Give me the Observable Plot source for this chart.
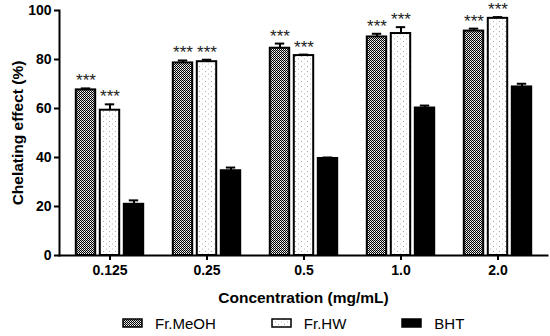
<!DOCTYPE html>
<html>
<head>
<meta charset="utf-8">
<script src="https://cdn.jsdelivr.net/npm/d3@7"></script>
<script src="https://cdn.jsdelivr.net/npm/@observablehq/plot@0.6"></script>
<style>
  body { margin: 0; background: #fff; font-family: "Liberation Sans", Arial, sans-serif; }
  #chart svg { display: block; }
  .legend { display: flex; align-items: center; height: 26px; padding-left: 122px; font-size: 15px; color: #000; }
  .legend .item { display: flex; align-items: center; margin-right: 55px; }
  .legend svg { margin-right: 12px; display: block; }
</style>
</head>
<body>
<svg width="0" height="0" style="position:absolute">
  <defs>
    <pattern id="checker" width="2" height="2" patternUnits="userSpaceOnUse">
      <rect width="2" height="2" fill="#fff"/>
      <rect x="0" y="0" width="1" height="1" fill="#000"/>
      <rect x="1" y="1" width="1" height="1" fill="#000"/>
      <rect x="1" y="0" width="1" height="1" fill="#555" fill-opacity="0.35"/>
    </pattern>
    <pattern id="dots" width="6" height="5" patternUnits="userSpaceOnUse">
      <rect width="6" height="5" fill="#fff"/>
      <rect x="1" y="1" width="1" height="1" fill="#aaa"/>
      <rect x="4" y="3.5" width="1" height="1" fill="#bbb"/>
    </pattern>
  </defs>
</svg>
<div id="chart"></div>
<div class="legend" id="legend"></div>
<script>
const concentrations = ["0.125", "0.25", "0.5", "1.0", "2.0"];
const seriesNames = ["Fr.MeOH", "Fr.HW", "BHT"];
const meohValues = [67.6, 78.6, 84.6, 89.2, 91.6];
const meohErrors = [0.6, 1.0, 1.9, 1.3, 1.0];
const hwValues = [59.3, 79.1, 81.6, 90.6, 96.8];
const hwErrors = [2.4, 0.8, 0.4, 2.6, 0.5];
const bhtValues = [20.9, 34.6, 39.6, 60.2, 68.8];
const bhtErrors = [1.6, 1.3, 0.4, 1.0, 1.3];
const significance = ["***", "***", "***", "***", "***"];
const yTicks = [0, 20, 40, 60, 80, 100];

const fills = {"Fr.MeOH": "url(#checker)", "Fr.HW": "url(#dots)", "BHT": "#000"};
const offsets = {"Fr.MeOH": -24, "Fr.HW": 0, "BHT": 24};
const valuesBy = {"Fr.MeOH": meohValues, "Fr.HW": hwValues, "BHT": bhtValues};
const errorsBy = {"Fr.MeOH": meohErrors, "Fr.HW": hwErrors, "BHT": bhtErrors};

function rows(name) {
  return concentrations.map((c, i) => ({
    conc: c, series: name, value: valuesBy[name][i], err: errorsBy[name][i],
    star: name === "BHT" ? "" : significance[i]
  }));
}

const marks = [];
for (const name of seriesNames) {
  const data = rows(name);
  const dx = offsets[name];
  marks.push(
    Plot.barY(data, {x: "conc", y: "value", fill: fills[name], stroke: "#000", strokeWidth: 2,
      insetLeft: 38.8, insetRight: 38.8, dx}),
    Plot.ruleX(data, {x: "conc", y1: "value", y2: d => d.value + d.err, stroke: "#000", strokeWidth: 2, dx}),
    Plot.tickY(data, {x: "conc", y: d => d.value + d.err, stroke: "#000", strokeWidth: 2,
      insetLeft: 43.8, insetRight: 43.8, dx}),
    Plot.text(data.filter(d => d.star), {x: "conc", y: d => d.value + d.err, text: "star",
      lineAnchor: "bottom", dy: -2, dx, fontSize: 17, fill: "#222"})
  );
}

const chart = Plot.plot({
  width: 550,
  height: 310,
  marginLeft: 59,
  marginRight: 3,
  marginTop: 10,
  marginBottom: 55,
  style: {fontFamily: "Liberation Sans, Arial, sans-serif", color: "#000", background: "#fff"},
  x: {domain: concentrations, padding: 0, axis: null},
  y: {domain: [0, 100], axis: null},
  marks: [
    ...marks,
    Plot.axisY({ticks: yTicks, tickSize: 5, tickPadding: 3, strokeWidth: 2, fontSize: 14, fontWeight: "bold", label: null}),
    Plot.axisX({tickSize: 5, tickPadding: 5, strokeWidth: 2, fontSize: 14, fontWeight: "bold", label: null}),
    Plot.frame({anchor: "left", strokeWidth: 2}),
    Plot.frame({anchor: "bottom", strokeWidth: 2}),
    Plot.text(["Concentration (mg/mL)"], {frameAnchor: "bottom", dy: 47, fontSize: 15.5, fontWeight: "bold"}),
    Plot.text(["Chelating effect (%)"], {frameAnchor: "left", textAnchor: "middle", rotate: -90, dx: -41, fontSize: 15.5, fontWeight: "bold"})
  ]
});
document.getElementById("chart").appendChild(chart);

const legend = document.getElementById("legend");
for (const name of seriesNames) {
  const item = document.createElement("div");
  item.className = "item";
  item.innerHTML = `<svg width="21" height="10"><rect x="1" y="1" width="19" height="8" fill="${fills[name]}" stroke="#000" stroke-width="1.5"/></svg><span>${name}</span>`;
  legend.appendChild(item);
}
</script>
</body>
</html>
